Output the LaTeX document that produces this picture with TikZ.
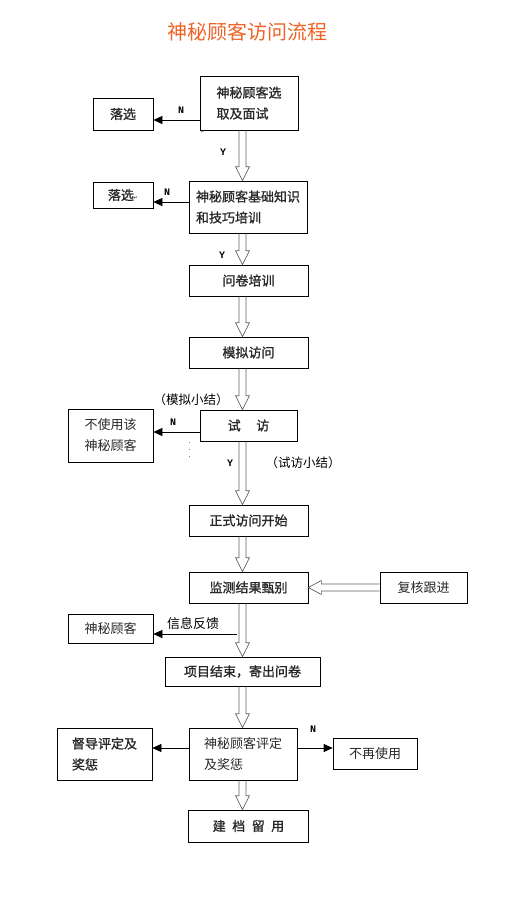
\documentclass[tikz,border=0pt]{standalone}
\usepackage{fontspec}
\setmainfont{Liberation Serif}
\newfontfamily\cjk{Noto Sans CJK SC}
\newfontfamily\cjkb[FakeBold=1.2]{Noto Sans CJK SC}
\newfontfamily\lblfont{Liberation Mono}
\newfontfamily\symfont{DejaVu Sans}
\usetikzlibrary{arrows.meta,calc}
\definecolor{titleorange}{RGB}{238,98,38}
\definecolor{hollowgray}{RGB}{95,95,95}
\definecolor{boxtext}{RGB}{40,40,40}
\begin{document}
\begin{tikzpicture}[x=1pt,y=-1pt]
\tikzset{
  box/.style={draw, line width=0.7pt, inner sep=0pt, align=left, text=boxtext,
    font=\cjk\fontsize{13}{21}\selectfont},
  boxb/.style={box, font=\cjkb\fontsize{13}{21}\selectfont},
  yn/.style={inner sep=0pt, font=\lblfont\bfseries\fontsize{10}{10}\selectfont},
  note/.style={inner sep=0pt, font=\cjk\fontsize{12.5}{14}\selectfont},
  blk/.style={-{Triangle[length=9pt,width=8pt]}, line width=0.7pt},
  hollowdown/.style={draw=hollowgray, line width=0.7pt, line join=miter, to path={
    ($(\tikztostart)+(-3.5,0)$) -- ($(\tikztotarget)+(-3.5,-14)$) -- ($(\tikztotarget)+(-7,-14)$)
    -- (\tikztotarget) -- ($(\tikztotarget)+(7,-14)$) -- ($(\tikztotarget)+(3.5,-14)$)
    -- ($(\tikztostart)+(3.5,0)$)}},
  hollowleft/.style={draw=hollowgray, line width=0.7pt, line join=miter, to path={
    ($(\tikztostart)+(0,-3.5)$) -- ($(\tikztotarget)+(13,-3.5)$) -- ($(\tikztotarget)+(13,-7)$)
    -- (\tikztotarget) -- ($(\tikztotarget)+(13,7)$) -- ($(\tikztotarget)+(13,3.5)$)
    -- ($(\tikztostart)+(0,3.5)$)}},
}
\useasboundingbox (0,0) rectangle (507,900);

% title
\node[inner sep=0pt, text=titleorange, font=\cjk\fontsize{20}{22}\selectfont] (title) at (247,32) {神秘顾客访问流程};

% main column
\coordinate (ax) at (242.5,0);
\node[boxb, minimum width=98pt, minimum height=54pt] (b1) at (249,103) {神秘顾客选\\取及面试};
\node[boxb, minimum width=118pt, minimum height=52pt] (b2) at (248,207) {神秘顾客基础知识\\和技巧培训};
\node[boxb, minimum width=119pt, minimum height=31pt] (b3) at (248.5,280.5) {问卷培训};
\node[boxb, minimum width=119pt, minimum height=31pt] (b4) at (248.5,352.5) {模拟访问};
\node[boxb, minimum width=97pt, minimum height=31pt] (b5) at (248.5,425.5) {试\hspace{1.2em}访};
\node[boxb, minimum width=119pt, minimum height=31pt] (b6) at (248.5,520.5) {正式访问开始};
\node[boxb, minimum width=119pt, minimum height=31pt] (b7) at (248.5,587.5) {监测结果甄别};
\node[boxb, minimum width=155pt, minimum height=29pt] (b8) at (242.5,671.5) {项目结束，寄出问卷};
\node[box, minimum width=108pt, minimum height=52pt] (b9) at (243,754) {神秘顾客评定\\及奖惩};
\node[boxb, minimum width=120pt, minimum height=32pt] (b10) at (248.5,826) {建\hspace{0.5em}档\hspace{0.5em}留\hspace{0.5em}用};

% side boxes
\node[boxb, minimum width=60pt, minimum height=32pt] (r1) at (123,114) {落选};
\node[boxb, minimum width=60pt, minimum height=26pt] (r2) at (123,195) {落选{\symfont\fontsize{5}{5}\selectfont ↵}};
\node[box, minimum width=85pt, minimum height=53pt] (r5) at (110.5,435.5) {不使用该\\神秘顾客};
\node[box, minimum width=87pt, minimum height=31pt] (rv) at (423.5,587.5) {复核跟进};
\node[box, minimum width=85pt, minimum height=29pt] (l7) at (110.5,628.5) {神秘顾客};
\node[boxb, minimum width=95pt, minimum height=52pt] (l9) at (104.5,754) {督导评定及\\奖惩};
\node[box, minimum width=84pt, minimum height=31pt] (r9) at (375,753.5) {不再使用};

% small paragraph mark
\node[inner sep=0pt, text=hollowgray, font=\symfont\fontsize{5}{5}\selectfont] (pm) at (203,132) {↵};

% hollow arrows
\draw[hollowdown] (b1.south -| ax) to (b2.north -| ax);
\draw[hollowdown] (b2.south -| ax) to (b3.north -| ax);
\draw[hollowdown] (b3.south -| ax) to (b4.north -| ax);
\draw[hollowdown] (b4.south -| ax) to (b5.north -| ax);
\draw[hollowdown] (b5.south -| ax) to (b6.north -| ax);
\draw[hollowdown] (b6.south -| ax) to (b7.north -| ax);
\draw[hollowdown] (b7.south -| ax) to (b8.north -| ax);
\draw[hollowdown] (b8.south -| ax) to (b9.north -| ax);
\draw[hollowdown] (b9.south -| ax) to (b10.north -| ax);
\draw[hollowleft] (rv.west) to (b7.east);

% black arrows
\draw[blk] (b1.west |- 0,120) -- (r1.east |- 0,120);
\draw[blk] (b2.west |- 0,202) -- (r2.east |- 0,202);
\draw[blk] (b5.west |- 0,432) -- (r5.east |- 0,432);
\coordinate (fb) at (237,634);
\draw[blk] (fb) -- (l7.east |- fb);
\draw[blk] (b9.west |- 0,748) -- (l9.east |- 0,748);
\draw[blk] (b9.east |- 0,748) -- (r9.west |- 0,748);

% dotted mark
\coordinate (d1) at (189,442);
\coordinate (d2) at (189,462);
\draw[line width=0.6pt, dash pattern=on 0.8pt off 6pt, gray] (d1) -- (d2);

% labels
\node[yn] (n1) at (181,110) {N};
\node[yn] (n2) at (167,192) {N};
\node[yn] (n5) at (173,422) {N};
\node[yn] (n9) at (313,729) {N};
\node[yn] (y1) at (223,152) {Y};
\node[yn] (y2) at (222,255) {Y};
\node[yn] (y5) at (230,463) {Y};
\node[note] (s1) at (191,400) {（模拟小结）};
\node[note] (s2) at (303,463) {（试访小结）};
\node[note, font=\cjk\fontsize{13}{14}\selectfont] (fbl) at (193,624) {信息反馈};
\end{tikzpicture}
\end{document}
